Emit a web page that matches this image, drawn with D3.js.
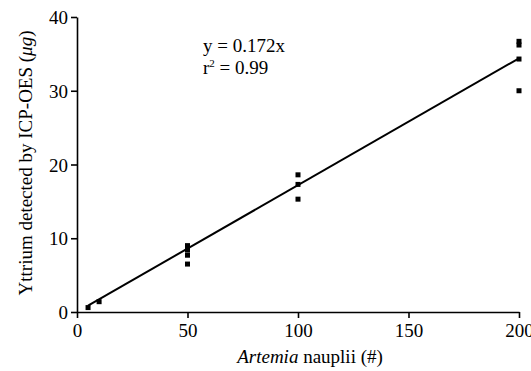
<!DOCTYPE html>
<html><head><meta charset="utf-8">
<script src="https://cdn.jsdelivr.net/npm/d3@7"></script>
<style>body{margin:0;background:#fff}svg{display:block}</style>
</head><body><svg id="c" width="531" height="371" font-family="Liberation Serif"></svg>
<script>
const pointX = [5, 10, 50, 50, 50, 50, 100, 100, 100, 200, 200, 200, 200];
const pointY = [0.6, 1.4, 9.0, 8.4, 7.7, 6.5, 18.6, 17.3, 15.3, 36.7, 36.2, 34.3, 30.0];
const fitSlope = 0.172;
const fitRange = [5, 200];
const xTicks = [0, 50, 100, 150, 200];
const yTicks = [0, 10, 20, 30, 40];
const FONT = "Liberation Serif";

const svg = d3.select("#c");
const x = d3.scaleLinear().domain([0, 200]).range([77, 519]);
const y = d3.scaleLinear().domain([0, 40]).range([312, 17]);

const xAxis = svg.append("g").attr("transform", `translate(0,${y(0)})`)
  .call(d3.axisBottom(x).tickValues(xTicks).tickSize(6).tickPadding(3).tickSizeOuter(0));
const yAxis = svg.append("g").attr("transform", `translate(${x(0)},0)`)
  .call(d3.axisLeft(y).tickValues(yTicks).tickSize(6).tickPadding(3).tickSizeOuter(0));
[xAxis, yAxis].forEach(a => {
  a.attr("font-family", FONT).attr("font-size", 19);
  a.selectAll("path,line").attr("stroke", "#000").attr("stroke-width", 1.6);
  a.selectAll("text").attr("font-family", FONT).attr("font-size", 19).attr("fill", "#000");
});
xAxis.selectAll("text").attr("dy", "0.85em");
yAxis.selectAll("text").attr("dy", "0.35em");

svg.append("line")
  .attr("x1", x(fitRange[0])).attr("y1", y(fitSlope * fitRange[0]))
  .attr("x2", x(fitRange[1])).attr("y2", y(fitSlope * fitRange[1]))
  .attr("stroke", "#000").attr("stroke-width", 2);

const s = 5;
svg.append("g").selectAll("rect").data(pointX.map((d, i) => [d, pointY[i]])).join("rect")
  .attr("x", d => x(d[0]) - s / 2).attr("y", d => y(d[1]) - s / 2)
  .attr("width", s).attr("height", s).attr("fill", "#000");

svg.append("text").attr("x", 203).attr("y", 52).attr("font-family", FONT).attr("font-size", 19).text("y = 0.172x");
const r2 = svg.append("text").attr("x", 203).attr("y", 74).attr("font-family", FONT).attr("font-size", 19);
r2.append("tspan").text("r");
r2.append("tspan").text("2").attr("dy", -7).attr("font-size", 11);
r2.append("tspan").text(" = 0.99").attr("dy", 7);

const xt = svg.append("text").attr("x", 310).attr("y", 363).attr("text-anchor", "middle").attr("font-family", FONT).attr("font-size", 19);
xt.append("tspan").text("Artemia").attr("font-style", "italic");
xt.append("tspan").text(" nauplii (#)");

const yt = svg.append("text").attr("transform", "translate(32,163) rotate(-90)").attr("text-anchor", "middle").attr("font-family", FONT).attr("font-size", 19);
yt.append("tspan").text("Yttrium detected by ICP-OES (");
yt.append("tspan").text("μg").attr("font-style", "italic");
yt.append("tspan").text(")");
</script></body></html>
